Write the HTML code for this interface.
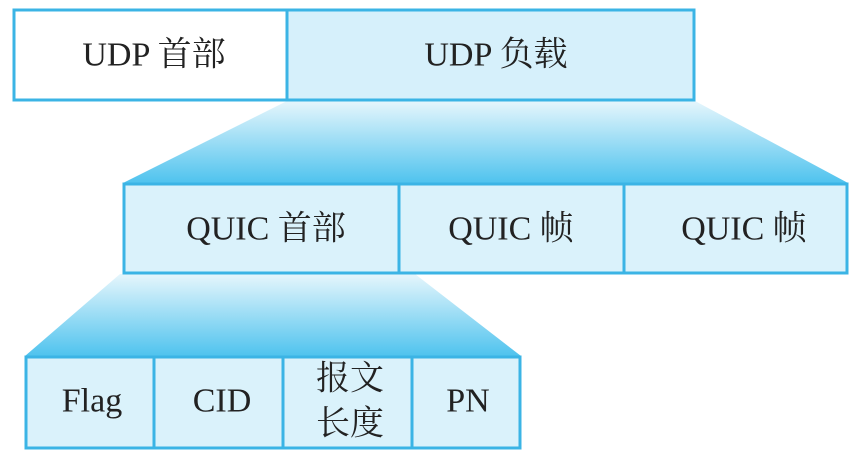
<!DOCTYPE html>
<html><head><meta charset="utf-8"><style>
body{margin:0;background:#fff;width:858px;height:459px;overflow:hidden}
svg text{font-family:"Liberation Serif","Noto Serif CJK SC",serif;font-size:34px;fill:#222;text-anchor:middle;dominant-baseline:central}
</style></head><body>
<svg width="858" height="459" viewBox="0 0 858 459">
<defs>
<linearGradient id="g" x1="0" y1="0" x2="0" y2="1">
<stop offset="0" stop-color="#e6f6fc"/><stop offset="1" stop-color="#4fc3ee"/>
</linearGradient>
</defs>
<polygon points="287,101 695,101 848,183 123,183" fill="url(#g)"/>
<polygon points="120,274 415,274 521,356 25,356" fill="url(#g)"/>
<g stroke="#3bb4e5" stroke-width="3">
<rect x="14" y="10" width="273" height="90" fill="#fff"/>
<rect x="287" y="10" width="407" height="90" fill="#d6f0fb"/>
<rect x="124" y="184" width="723" height="89" fill="#daf2fb"/>
<line x1="399" y1="184" x2="399" y2="273"/>
<line x1="624" y1="184" x2="624" y2="273"/>
<rect x="26" y="357" width="494" height="91" fill="#daf2fb"/>
<line x1="154" y1="357" x2="154" y2="448"/>
<line x1="283" y1="357" x2="283" y2="448"/>
<line x1="412" y1="357" x2="412" y2="448"/>
</g>
<text x="154" y="55">UDP 首部</text>
<text x="496" y="55">UDP 负载</text>
<text x="266" y="229">QUIC 首部</text>
<text x="511" y="229">QUIC 帧</text>
<text x="744" y="229">QUIC 帧</text>
<text x="92" y="401">Flag</text>
<text x="222" y="401">CID</text>
<text x="350" y="379">报文</text>
<text x="350" y="424">长度</text>
<text x="468" y="401">PN</text>
</svg>
</body></html>
